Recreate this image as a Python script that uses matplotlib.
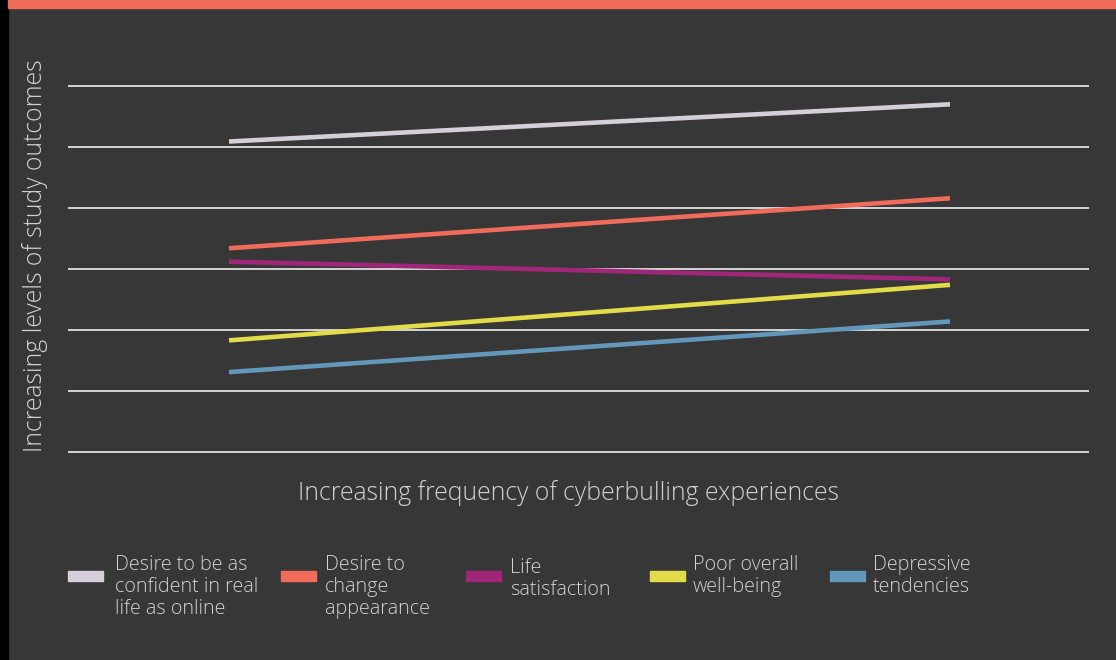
import matplotlib.pyplot as plt
from matplotlib.patches import Rectangle

# data (arbitrary units, gridlines at 0..6)
stages = [0, 1]
confident = [5.09, 5.70]
change_appearance = [3.34, 4.16]
life_satisfaction = [3.12, 2.83]
poor_wellbeing = [1.83, 2.74]
depressive = [1.31, 2.14]

labels = ["Desire to be as\nconfident in real\nlife as online",
          "Desire to\nchange\nappearance",
          "Life\nsatisfaction",
          "Poor overall\nwell-being",
          "Depressive\ntendencies"]
colors = ["#D6CED8", "#EF6B5A", "#A0267A", "#E2DB4A", "#6498BA"]
series = [confident, change_appearance, life_satisfaction, poor_wellbeing, depressive]

bg = "#373737"
txt = "#D2D2D2"
font = "Open Sans"

fig = plt.figure(figsize=(11.16, 6.6), dpi=100)
fig.patch.set_facecolor(bg)

# left black strip and top accent bar
fig.patches.append(Rectangle((0, 0), 8 / 1116, 1, transform=fig.transFigure,
                             color="black", zorder=0))
fig.patches.append(Rectangle((8 / 1116, 652 / 660), 1, 8 / 660, transform=fig.transFigure,
                             color="#EF6B5A", zorder=0))

ax = fig.add_axes([68 / 1116, 208 / 660, 1021 / 1116, 366 / 660])
ax.set_facecolor(bg)
ax.set_xlim(-0.2233, 1.1928)
ax.set_ylim(0, 6)
ax.hlines(range(0, 7), -0.2233, 1.1928, colors="white", linewidth=1.1, clip_on=False, zorder=1)

for vals, c in zip(series, colors):
    ax.plot(stages, vals, color=c, linewidth=3.3, solid_capstyle="butt", zorder=3)

for s in ax.spines.values():
    s.set_visible(False)
ax.set_xticks([])
ax.set_yticks([])

fig.text(35 / 1116, 1 - 256 / 660, "Increasing levels of study outcomes", rotation=90,
         ha="center", va="center", color=txt, fontsize=17.8, family=font, fontweight="light")
fig.text(568 / 1116, 1 - 493 / 660, "Increasing frequency of cyberbulling experiences",
         ha="center", va="center", color=txt, fontsize=17.8, family=font, fontweight="light")

# legend
patch_x = [68, 281, 466, 650, 830]
text_x = [115, 325, 510, 693, 873]
text_top = [555, 555, 558, 555, 555]
for i in range(len(labels)):
    fig.patches.append(Rectangle((patch_x[i] / 1116, 1 - 581 / 660), 35 / 1116, 10 / 660,
                                 transform=fig.transFigure, color=colors[i]))
    fig.text(text_x[i] / 1116, 1 - text_top[i] / 660, labels[i], ha="left", va="top",
             color=txt, fontsize=14.2, family=font, fontweight="light", linespacing=1.13)

fig.savefig("out.png", dpi=100, facecolor=bg)
